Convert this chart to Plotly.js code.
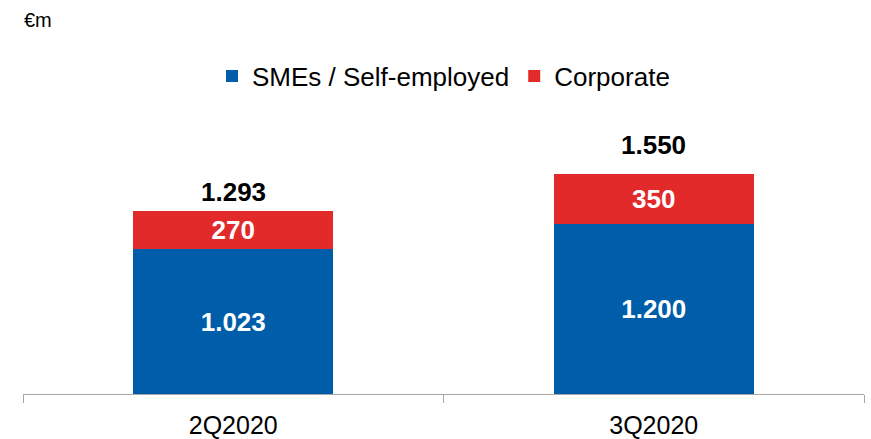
<!DOCTYPE html>
<html>
<head>
<meta charset="utf-8">
<script src="https://cdn.plot.ly/plotly-3.0.1.min.js"></script>
<style>html,body{margin:0;padding:0;background:#fff;}#chart{width:871px;height:439px;}</style>
</head>
<body>
<div id="chart"></div>
<script>
const categories = ["2Q2020", "3Q2020"];
const smes = [1023, 1200];
const corporate = [270, 350];
const seriesNames = ["SMEs / Self-employed", "Corporate"];
const unitLabel = "€m";

const totals = categories.map((c, i) => smes[i] + corporate[i]);
const fmt = v => String(v).replace(/\B(?=(\d{3})+(?!\d))/g, ".");

const font = "Liberation Sans, Arial, sans-serif";
const totalLabelShift = [2, 12];
const traces = [
  {
    type: "bar", name: seriesNames[0], x: categories, y: smes,
    marker: {color: "#005DA9"},
    texttemplate: "<b>%{y:,.0f}</b>", textposition: "inside", insidetextanchor: "middle",
    textfont: {color: "#ffffff", size: 26, family: font}, hoverinfo: "skip"
  },
  {
    type: "bar", name: seriesNames[1], x: categories, y: corporate,
    marker: {color: "#E32A2A"},
    texttemplate: "<b>%{y:,.0f}</b>", textposition: "inside", insidetextanchor: "middle",
    textfont: {color: "#ffffff", size: 26, family: font}, hoverinfo: "skip"
  }
];

const annotations = categories.map((c, i) => ({
  x: c, y: totals[i], xref: "x", yref: "y", yanchor: "bottom", showarrow: false,
  text: "<b>" + fmt(totals[i]) + "</b>", font: {size: 26, color: "#000", family: font},
  yshift: totalLabelShift[i]
}));
annotations.push({
  xref: "paper", yref: "paper", x: -0.001, y: (394 - 20) / 294, xanchor: "left", yanchor: "middle",
  showarrow: false, text: unitLabel, font: {size: 20, color: "#000", family: font}
});

const layout = {
  width: 871, height: 439,
  margin: {l: 23, r: 7, t: 100, b: 45},
  barmode: "stack", bargap: 0.524,
  separators: ",.",
  paper_bgcolor: "#fff", plot_bgcolor: "#fff",
  font: {family: font, color: "#000"},
  showlegend: true,
  legend: {orientation: "h", x: 0.5, xanchor: "center", y: (394 - 76) / 294, yanchor: "middle",
           font: {size: 26, color: "#000", family: font}, traceorder: "normal", itemwidth: 30},
  xaxis: {
    type: "category", tickson: "boundaries", ticks: "outside", ticklen: 8, tickcolor: "#A6A6A6",
    showline: true, linecolor: "#A6A6A6", linewidth: 1, showgrid: false, zeroline: false,
    tickfont: {size: 25, color: "#000", family: font}, ticklabelstandoff: 9
  },
  yaxis: {range: [0, 2075], visible: false, showgrid: false, zeroline: false},
  annotations: annotations
};

Plotly.newPlot("chart", traces, layout, {staticPlot: true});
</script>
</body>
</html>
